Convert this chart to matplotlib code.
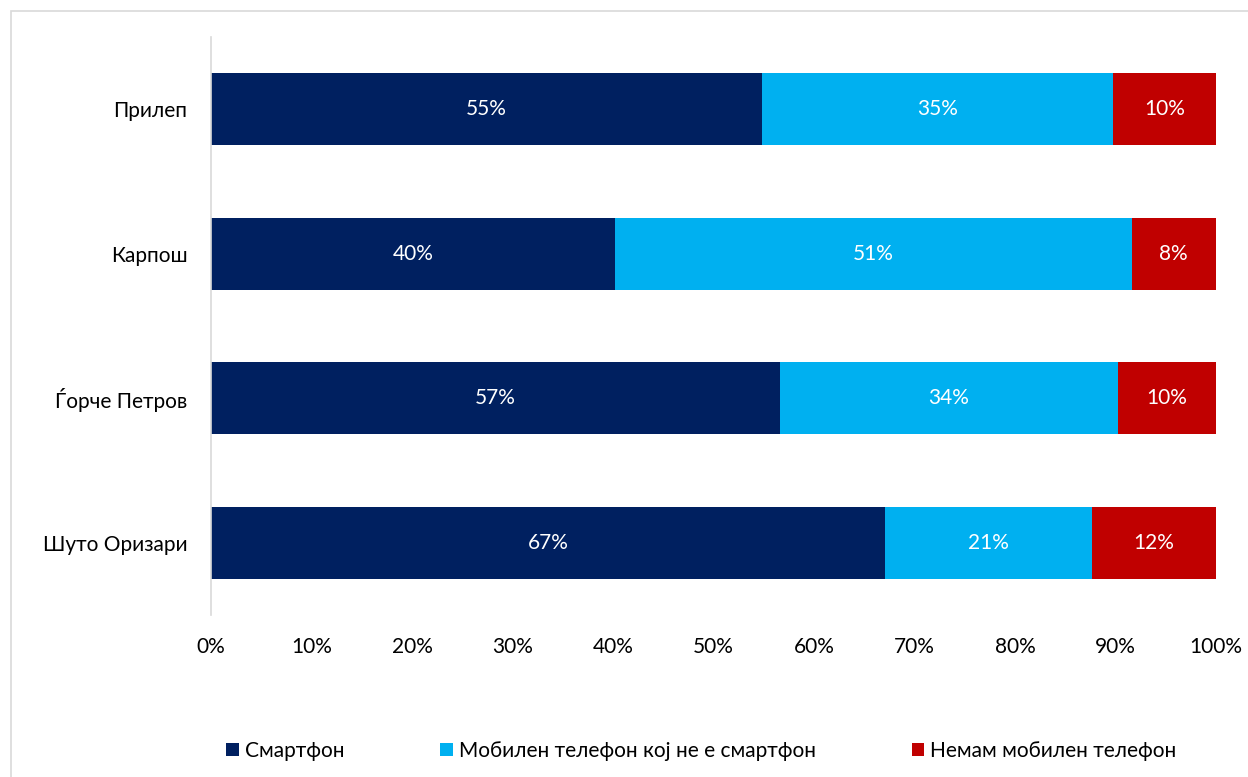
import matplotlib
matplotlib.use("Agg")
import matplotlib.pyplot as plt
from matplotlib.patches import Rectangle

plt.rcParams['font.family'] = ['Lato', 'DejaVu Sans']

# data
places = ['Прилеп', 'Карпош', 'Ѓорче Петров', 'Шуто Оризари']
smart = [54.8, 40.2, 56.6, 67.1]
mobile = [34.95, 51.4, 33.6, 20.6]
none_ = [10.25, 8.4, 9.8, 12.3]
series_names = ['Смартфон', 'Мобилен телефон кој не е смартфон', 'Немам мобилен телефон']
colors = ['#002060', '#00B0F0', '#C00000']
xticks = [0, 10, 20, 30, 40, 50, 60, 70, 80, 90, 100]

fs = 15

fig = plt.figure(figsize=(12.48, 7.77), dpi=100)
fig.patches.append(Rectangle((11 / 1248, -0.1), 1.2, 1 - 11 / 777 + 0.1,
                             transform=fig.transFigure, fill=False,
                             edgecolor='#d9d9d9', linewidth=1.2))
ax = fig.add_axes([211 / 1248, 1 - 615 / 777, (1216 - 211) / 1248, (615 - 37) / 777])

y = list(range(len(places)))
left = [0] * len(places)
for vals, name, col in zip([smart, mobile, none_], series_names, colors):
    ax.barh(y, vals, left=left, height=0.5, color=col, label=name)
    for i, v in enumerate(vals):
        ax.text(left[i] + v / 2, y[i], '{:.0f}%'.format(v), ha='center', va='center',
                color='white', fontsize=fs)
    left = [a + b for a, b in zip(left, vals)]

ax.set_ylim(3.5, -0.5)
ax.set_xlim(0, 100)
ax.set_yticks(y)
ax.set_yticklabels(places, fontsize=fs)
ax.set_xticks(xticks)
ax.set_xticklabels(['{}%'.format(t) for t in xticks], fontsize=fs)
ax.tick_params(length=0)
ax.tick_params(axis='x', pad=16)
ax.tick_params(axis='y', pad=17)
for s in ['top', 'right', 'bottom']:
    ax.spines[s].set_visible(False)
ax.spines['left'].set_color('#d9d9d9')
ax.spines['left'].set_linewidth(1.2)

fig.legend(loc='center', bbox_to_anchor=(0.562, 1 - 751 / 777), ncol=3, frameon=False,
           fontsize=fs, handlelength=0.6, handleheight=0.6, handletextpad=0.3,
           columnspacing=4.6)

fig.savefig('out.png', dpi=100)
